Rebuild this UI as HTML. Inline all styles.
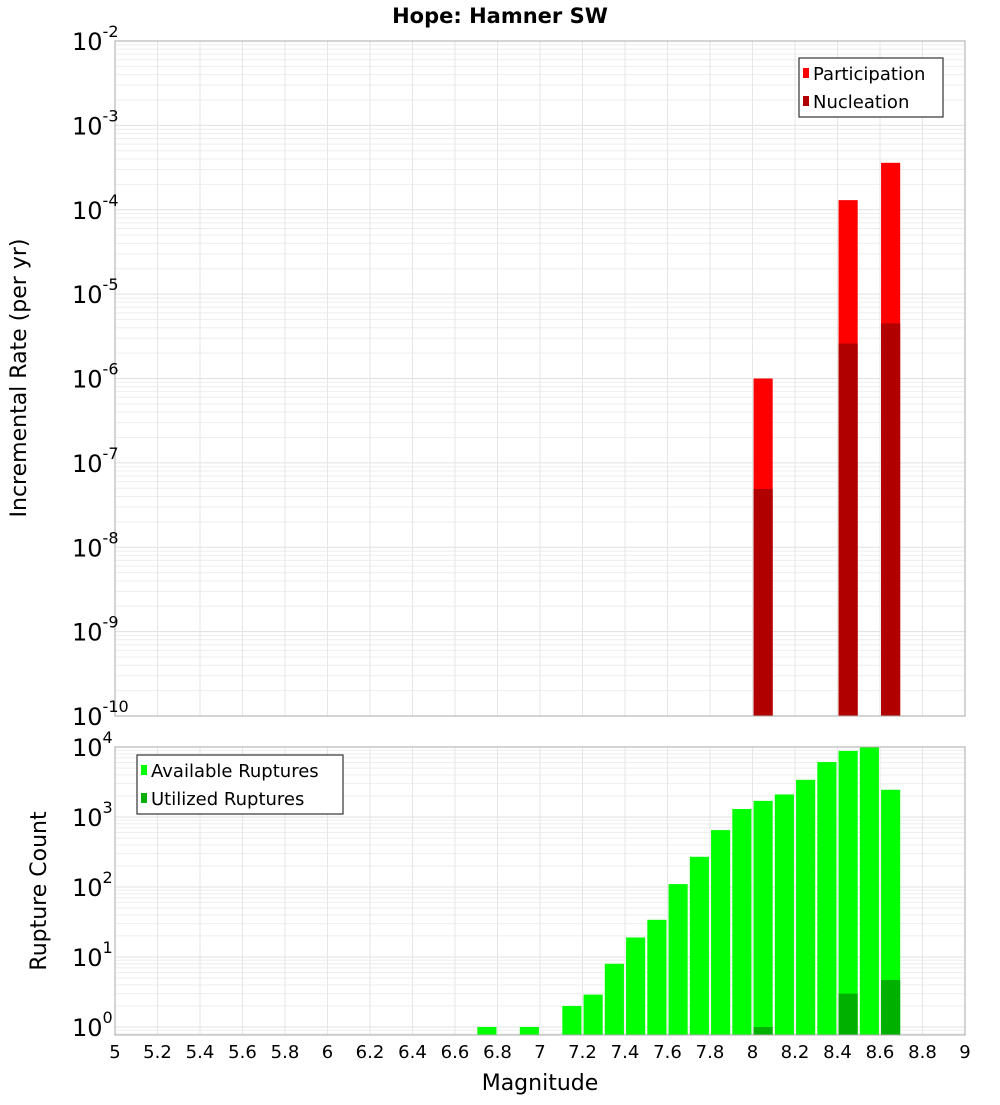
<!DOCTYPE html>
<html><head><meta charset="utf-8"><style>
body{margin:0;background:#fff;width:1000px;height:1100px;overflow:hidden}
svg text{font-family:"DejaVu Sans","Liberation Sans",sans-serif}
</style></head><body>
<svg id="c" width="1000" height="1100" xmlns="http://www.w3.org/2000/svg">
<text x="500" y="23" text-anchor="middle" font-size="21" font-weight="bold">Hope: Hamner SW</text>
</svg>
<script>
const topMags=[8.05,8.45,8.65];
const partVals=[1.0e-6,1.3e-4,3.6e-4];
const nuclVals=[4.9e-8,2.6e-6,4.5e-6];
const botMags=[6.75,6.95,7.15,7.25,7.35,7.45,7.55,7.65,7.75,7.85,7.95,8.05,8.15,8.25,8.35,8.45,8.55,8.65];
const availVals=[1,1,2,2.9,8,19,34,110,270,650,1300,1700,2100,3400,6100,8800,10000,2450];
const utilMags=[8.05,8.45,8.65];
const utilVals=[1,3,4.7];
const xTicks=[5,5.2,5.4,5.6,5.8,6,6.2,6.4,6.6,6.8,7,7.2,7.4,7.6,7.8,8,8.2,8.4,8.6,8.8,9];
const xTickLabels=["5","5.2","5.4","5.6","5.8","6","6.2","6.4","6.6","6.8","7","7.2","7.4","7.6","7.8","8","8.2","8.4","8.6","8.8","9"];
const topExps=[-10,-9,-8,-7,-6,-5,-4,-3,-2];
const botExps=[0,1,2,3,4];

const svg=document.getElementById('c');
const NS='http://www.w3.org/2000/svg';
function mk(t,a,p){const e=document.createElementNS(NS,t);for(const k in a)e.setAttribute(k,a[k]);(p||svg).appendChild(e);return e;}
const X0=115,X1=965;
const x=m=>X0+(m-5)/4*(X1-X0);
const T0=41,T1=716;
const yT=v=>T0+(-2-Math.log10(v))/8*(T1-T0);
const B0=747,dec=70;
const yB=v=>B0+(4-Math.log10(v))*dec;
const B1=1035;

function grid(y0,y1,ymap,lo,hi){
  for(let e=lo;e<hi;e++)for(let k=1;k<10;k++){const v=k*Math.pow(10,e);const yy=ymap(v);if(yy<y0-0.5||yy>y1+0.5)continue;
    const l=mk('line',{x1:X0,x2:X1,y1:yy,y2:yy,stroke:k==1?'#e0e0e0':'#eeeeee','stroke-width':1});
    }
  xTicks.forEach(t=>{const l=mk('line',{x1:x(t),x2:x(t),y1:y0,y2:y1,stroke:'#e6e6e6','stroke-width':1});
    });
}
grid(T0,T1,yT,-10,-1);
grid(B0,B1,yB,-1,5);

const bw=0.09*(X1-X0)/4;
function bar(m,v,ymap,ybot,fill,name){const yy=ymap(v);const r=mk('rect',{x:x(m)-bw/2,y:yy,width:bw,height:ybot-yy,fill:fill});
  }
topMags.forEach((m,i)=>bar(m,partVals[i],yT,T1,'#ff0000','participation-bar'));
topMags.forEach((m,i)=>bar(m,nuclVals[i],yT,T1,'#b00000','nucleation-bar'));
botMags.forEach((m,i)=>bar(m,availVals[i],yB,B1,'#00ff00','available-bar'));
utilMags.forEach((m,i)=>bar(m,utilVals[i],yB,B1,'#00b000','utilized-bar'));

[[T0,T1,'top-plot-frame'],[B0,B1,'bottom-plot-frame']].forEach(f=>{const r=mk('rect',{x:X0,y:f[0],width:X1-X0,height:f[1]-f[0],fill:'none',stroke:'#aaaaaa','stroke-width':1});
  });

function ylab(e,yy,name){const t=mk('text',{x:72,y:yy+9,'font-size':24});
  
  t.textContent='10';const s=mk('tspan',{dy:-13,'font-size':16},t);s.textContent=String(e);}
topExps.forEach(e=>ylab(e,yT(Math.pow(10,e)),'top-y-tick-label'));
botExps.forEach(e=>ylab(e,yB(Math.pow(10,e)),'bottom-y-tick-label'));
xTicks.forEach((t,i)=>{const tx=mk('text',{x:x(t),y:1058,'text-anchor':'middle','font-size':18});
  tx.textContent=xTickLabels[i];});

function txt(s,a,name){const t=mk('text',a);t.textContent=s;return t;}
txt('Magnitude',{x:540,y:1090,'text-anchor':'middle','font-size':22},'x-axis-title');
txt('Incremental Rate (per yr)',{x:0,y:0,'text-anchor':'middle','font-size':22,transform:'translate(26,378) rotate(-90)'},'top-y-axis-title');
txt('Rupture Count',{x:0,y:0,'text-anchor':'middle','font-size':22,transform:'translate(46,891) rotate(-90)'},'bottom-y-axis-title');

function legend(lx,ly,w,items,name){const g=mk('g',{});
  mk('rect',{x:lx,y:ly,width:w,height:59,fill:'#fff',stroke:'#333','stroke-width':1.2},g);
  items.forEach((it,i)=>{mk('rect',{x:lx+4,y:ly+10+i*28,width:6,height:10,fill:it[1]},g);
    const t=mk('text',{x:lx+14,y:ly+22+i*28,'font-size':18},g);t.textContent=it[0];});}
legend(799,58,144,[['Participation','#ff0000'],['Nucleation','#b00000']],'top-legend');
legend(137,755,206,[['Available Ruptures','#00ff00'],['Utilized Ruptures','#00b000']],'bottom-legend');
</script>
</body></html>
